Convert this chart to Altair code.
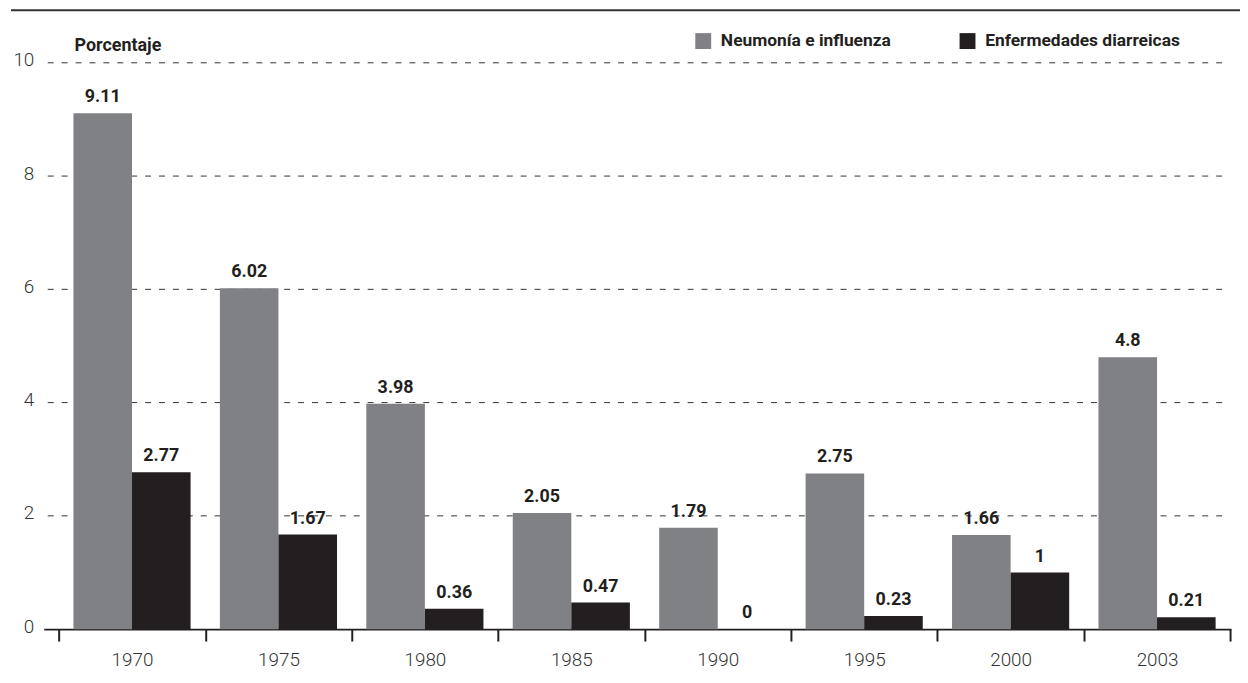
import altair as alt
import pandas as pd

years = ["1970", "1975", "1980", "1985", "1990", "1995", "2000", "2003"]
neumonia = [9.11, 6.02, 3.98, 2.05, 1.79, 2.75, 1.66, 4.8]
diarreicas = [2.77, 1.67, 0.36, 0.47, 0, 0.23, 1, 0.21]
series = ["Neumonía e influenza", "Enfermedades diarreicas"]
colors = ["#808184", "#231f20"]
grid_values = [2, 4, 6, 8, 10]
y_ticks = [0, 2, 4, 6, 8, 10]

rows = []
for i, yr in enumerate(years):
    rows.append({"anio": yr, "serie": series[0], "valor": neumonia[i]})
    rows.append({"anio": yr, "serie": series[1], "valor": diarreicas[i]})
df = pd.DataFrame(rows)

FONT = "Roboto"
DARK = "#231f20"

x_enc = alt.X(
    "anio:N", sort=years,
    scale=alt.Scale(paddingInner=0, paddingOuter=0.054, align=0.95),
    axis=alt.Axis(title=None, labelAngle=0, tickBand="extent", ticks=True,
                  tickSize=12, tickWidth=2, tickColor=DARK,
                  domainColor=DARK, domainWidth=2,
                  labelFontSize=19, labelFont=FONT, labelFontWeight=300,
                  labelColor="#333333", labelPadding=10, grid=False),
)
y_scale = alt.Scale(domain=[0, 10], nice=False)
y_axis = alt.Axis(title=None, values=y_ticks, grid=False, domain=False, ticks=False,
                  labelFontSize=19, labelFont=FONT, labelFontWeight=300,
                  labelColor="#333333", labelPadding=10, labelOffset=-3)
y_enc = alt.Y("valor:Q", scale=y_scale, stack=None, axis=y_axis)
xo = alt.XOffset("serie:N", sort=series,
                 scale=alt.Scale(domain=series, paddingOuter=0.25, paddingInner=0))
color = alt.Color(
    "serie:N", sort=series,
    scale=alt.Scale(domain=series, range=colors),
    legend=alt.Legend(orient="none", legendX=655, legendY=-31, direction="horizontal",
                      title=None, symbolType="square", symbolSize=256,
                      symbolStrokeWidth=0, symbolOpacity=1,
                      labelFontSize=17.5, labelFontWeight="bold", labelFont=FONT,
                      labelColor=DARK, columnPadding=68, labelOffset=9, labelLimit=400),
)

grid = alt.Chart(pd.DataFrame({"g": grid_values})).mark_rule(
    color="#333333", strokeDash=[6, 8], strokeWidth=1
).encode(
    y=alt.Y("g:Q", scale=y_scale, axis=y_axis),
    x=alt.value(4), x2=alt.value(1187),
)

bars = alt.Chart(df).mark_bar().encode(x=x_enc, xOffset=xo, y=y_enc, color=color)

labels = alt.Chart(df).mark_text(
    dy=-11, baseline="alphabetic", fontWeight="bold", fontSize=18, font=FONT, color=DARK
).encode(x=x_enc, xOffset=xo, y=y_enc, text=alt.Text("valor:Q"))

ytitle = alt.Chart(pd.DataFrame({"t": ["Porcentaje"]})).mark_text(
    align="left", baseline="alphabetic", fontWeight="bold", fontSize=18, font=FONT, color=DARK
).encode(x=alt.value(31), y=alt.value(-12), text="t:N")

topline = alt.Chart(pd.DataFrame({"a": [0]})).mark_rule(
    color="#333333", strokeWidth=2
).encode(x=alt.value(-33), x2=alt.value(1210), y=alt.value(-53))

chart = alt.layer(grid, bars, labels, ytitle, topline).properties(
    width=1195, height=570,
    autosize=alt.AutoSizeParams(type="none"),
    padding={"left": 36, "top": 53, "right": 9, "bottom": 44},
).configure_view(stroke=None)

chart.save("out.html", embed_options={"renderer": "svg", "actions": False})
